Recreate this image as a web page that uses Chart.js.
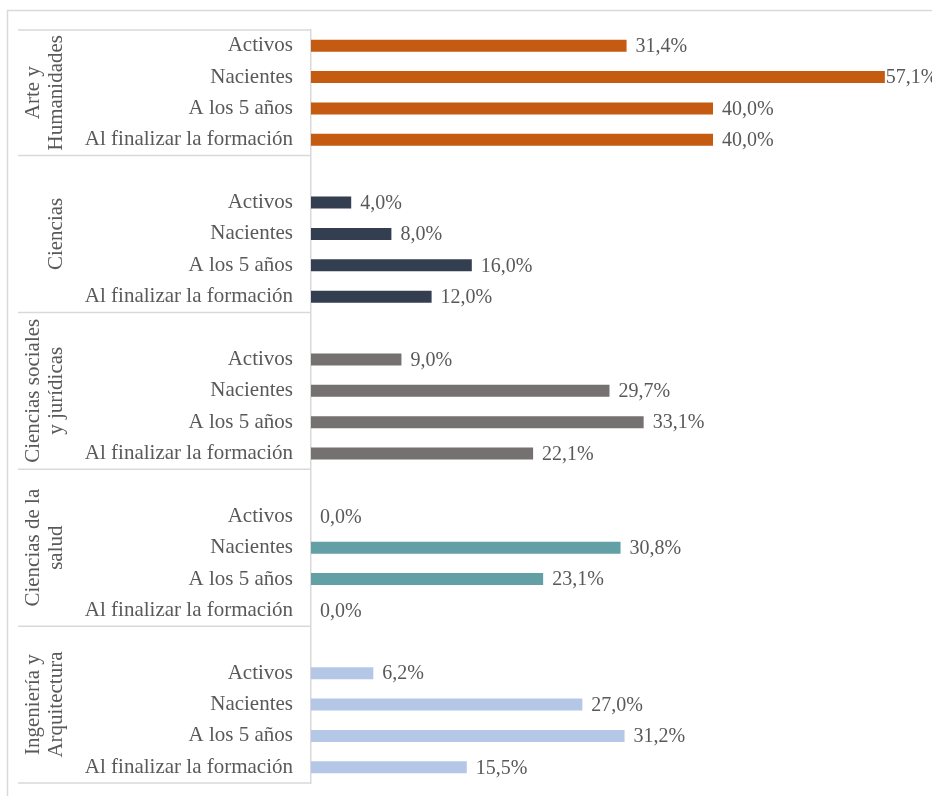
<!DOCTYPE html>
<html>
<head>
<meta charset="utf-8">
<script src="https://cdn.jsdelivr.net/npm/chart.js@4.4.1/dist/chart.umd.min.js"></script>
<style>
  html, body { margin: 0; padding: 0; background: #fff; }
  #wrap { width: 932px; height: 796px; }
</style>
</head>
<body>
<div id="wrap"><canvas id="chart" width="932" height="796"></canvas></div>
<script>
// Study-area groups (top to bottom) and the four stages shown in each
const groupNames = [
  ['Arte y', 'Humanidades'],
  ['Ciencias'],
  ['Ciencias sociales', 'y jurídicas'],
  ['Ciencias de la', 'salud'],
  ['Ingeniería y', 'Arquitectura']
];
const stages = ['Activos', 'Nacientes', 'A los 5 años', 'Al finalizar la formación'];

// Percentages per group, in stage order
const arteHumanidades = [31.4, 57.1, 40.0, 40.0];
const ciencias = [4.0, 8.0, 16.0, 12.0];
const cienciasSociales = [9.0, 29.7, 33.1, 22.1];
const cienciasSalud = [0.0, 30.8, 23.1, 0.0];
const ingenieria = [6.2, 27.0, 31.2, 15.5];

const groupValues = [arteHumanidades, ciencias, cienciasSociales, cienciasSalud, ingenieria];
const groupColors = ['#c55a11', '#333f50', '#767171', '#62a0a5', '#b4c7e7'];

const GRID = '#d9d9d9';
const TEXT = '#595959';
const FONT = "'Liberation Serif', 'Times New Roman', serif";

// Flatten into rows, with an empty spacer row in front of every group but the first
const rowLabels = [];
const rowValues = [];
const rowColors = [];
const groupStart = [];
groupValues.forEach((vals, g) => {
  if (g > 0) {
    rowLabels.push('');
    rowValues.push(null);
    rowColors.push('transparent');
  }
  groupStart.push(rowLabels.length - (g > 0 ? 1 : 0));
  vals.forEach((v, i) => {
    rowLabels.push(stages[i]);
    rowValues.push(v);
    rowColors.push(v === 0 ? 'transparent' : groupColors[g]);
  });
});

// Frame, group separators and rotated group names on the left
const groupAxisPlugin = {
  id: 'groupAxis',
  beforeDraw(chart) {
    const ctx = chart.ctx;
    ctx.save();
    ctx.strokeStyle = GRID;
    ctx.lineWidth = 1.5;
    ctx.beginPath();
    ctx.moveTo(7, 10.5);
    ctx.lineTo(chart.width, 10.5);
    ctx.moveTo(7.5, 10);
    ctx.lineTo(7.5, chart.height);
    ctx.stroke();
    ctx.restore();
  },
  afterDraw(chart) {
    const ctx = chart.ctx;
    const y = chart.scales.y;
    const area = chart.chartArea;
    const half = (y.getPixelForValue(1) - y.getPixelForValue(0)) / 2;
    const bounds = groupStart.map(s => y.getPixelForValue(s) - half);
    bounds[0] = area.top;
    bounds.push(area.bottom);

    ctx.save();
    ctx.strokeStyle = GRID;
    ctx.lineWidth = 1.5;
    ctx.beginPath();
    bounds.forEach(b => {
      ctx.moveTo(18, b);
      ctx.lineTo(area.left, b);
    });
    ctx.stroke();

    ctx.fillStyle = TEXT;
    ctx.font = '21px ' + FONT;
    ctx.textAlign = 'center';
    ctx.textBaseline = 'middle';
    groupNames.forEach((lines, g) => {
      const cy = (bounds[g] + bounds[g + 1]) / 2;
      lines.forEach((line, i) => {
        const cx = 55 - (lines.length - 1 - i) * 23;
        ctx.save();
        ctx.translate(cx, cy);
        ctx.rotate(-Math.PI / 2);
        ctx.fillText(line, 0, 1);
        ctx.restore();
      });
    });
    ctx.restore();
  }
};

// Value labels after each bar, e.g. "31,4%"
const valueLabelPlugin = {
  id: 'valueLabels',
  afterDatasetsDraw(chart) {
    const ctx = chart.ctx;
    const meta = chart.getDatasetMeta(0);
    ctx.save();
    ctx.fillStyle = TEXT;
    ctx.font = '20px ' + FONT;
    ctx.textAlign = 'left';
    ctx.textBaseline = 'middle';
    meta.data.forEach((bar, i) => {
      const v = rowValues[i];
      if (v === null) return;
      const txt = v.toFixed(1).replace('.', ',') + '%';
      const w = ctx.measureText(txt).width;
      let x = bar.x + 9;
      if (x + w > chart.width) x = bar.x + 1;
      ctx.fillText(txt, x, bar.y + 1);
    });
    ctx.restore();
  }
};

new Chart(document.getElementById('chart'), {
  type: 'bar',
  data: {
    labels: rowLabels,
    datasets: [{
      data: rowValues,
      backgroundColor: rowColors,
      borderWidth: 0,
      inflateAmount: 0,
      barThickness: 12
    }]
  },
  options: {
    indexAxis: 'y',
    responsive: false,
    animation: false,
    layout: { padding: { top: 30, right: 18, bottom: 13, left: 0 } },
    plugins: {
      legend: { display: false },
      tooltip: { enabled: false }
    },
    scales: {
      x: {
        display: false,
        min: 0,
        max: 60
      },
      y: {
        afterFit: (scale) => {
          scale.width = 311;
          scale.paddingTop = 0;
          scale.paddingBottom = 0;
        },
        grid: { display: false, drawTicks: false },
        border: { display: true, color: GRID, width: 1.5 },
        ticks: {
          autoSkip: false,
          padding: 18,
          color: TEXT,
          font: { family: FONT, size: 21 }
        }
      }
    }
  },
  plugins: [groupAxisPlugin, valueLabelPlugin]
});
</script>
</body>
</html>
